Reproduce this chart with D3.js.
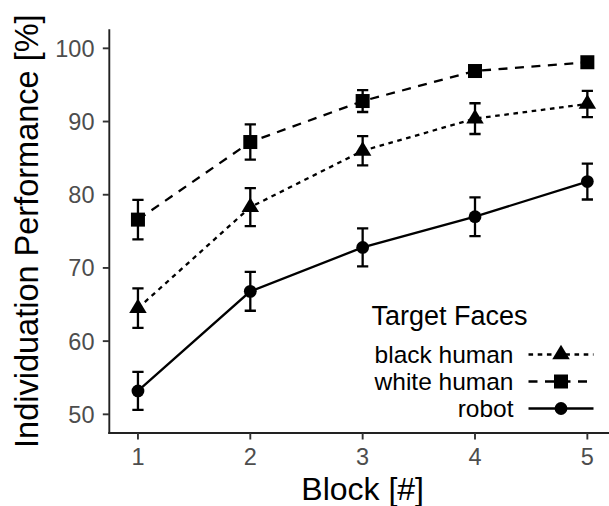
<!DOCTYPE html>
<html>
<head>
<meta charset="utf-8">
<script src="https://cdn.jsdelivr.net/npm/d3@7"></script>
<style>
  body { margin: 0; background: #fff; }
  text { font-family: "Liberation Sans", Arial, sans-serif; }
</style>
</head>
<body>
<div class="chart"></div>
<script>
// values
const blocks = [1, 2, 3, 4, 5];
const blackHuman = [64.5, 78.3, 86.0, 90.4, 92.4];
const blackHumanErr = [2.7, 2.6, 2.0, 2.1, 1.8];
const whiteHuman = [76.6, 87.2, 92.8, 96.9, 98.1];
const whiteHumanErr = [2.7, 2.4, 1.5, 0.6, 0.4];
const robot = [53.2, 66.8, 72.8, 77.0, 81.8];
const robotErr = [2.6, 2.65, 2.6, 2.65, 2.45];
const yTicks = [50, 60, 70, 80, 90, 100];
const legendLabels = ["black human", "white human", "robot"];

const width = 609, height = 506;
const svg = d3.select(".chart").append("svg").attr("width", width).attr("height", height);

// panel runs past the right edge, as in the cropped original
const x = d3.scaleLinear().domain([0.745, 5.255]).range([109.3, 616.0]);
const y = d3.scaleLinear().domain([47.45, 102.6]).range([433, 29.3]);

const series = [
  {name: "black human", vals: blackHuman, err: blackHumanErr, dash: "4.6,4.6", shape: "triangle"},
  {name: "white human", vals: whiteHuman, err: whiteHumanErr, dash: "9,7.5", shape: "square"},
  {name: "robot", vals: robot, err: robotErr, dash: null, shape: "circle"}
];

function drawShape(g, shape, cx, cy){
  if(shape === "circle"){
    g.append("circle").attr("cx", cx).attr("cy", cy).attr("r", 6.4).attr("fill", "#000");
  } else if(shape === "square"){
    g.append("rect").attr("x", cx - 7).attr("y", cy - 7).attr("width", 14).attr("height", 14).attr("fill", "#000");
  } else {
    const w = 17.5, h = 14.5;
    g.append("path")
      .attr("d", `M${cx},${cy - h*2/3}L${cx + w/2},${cy + h/3}L${cx - w/2},${cy + h/3}Z`)
      .attr("fill", "#000");
  }
}

// axes
const axisG = svg.append("g");
axisG.append("line").attr("x1", x.range()[0]).attr("x2", x.range()[0])
  .attr("y1", y.range()[1]).attr("y2", y.range()[0] + 1)
  .attr("stroke", "#222").attr("stroke-width", 1.9);
axisG.append("line").attr("x1", x.range()[0] - 1).attr("x2", width)
  .attr("y1", y.range()[0]).attr("y2", y.range()[0])
  .attr("stroke", "#222").attr("stroke-width", 1.9);

axisG.selectAll(".ytick").data(yTicks).join("line").classed("ytick", true)
  .attr("x1", x.range()[0] - 6.5).attr("x2", x.range()[0])
  .attr("y1", d => y(d)).attr("y2", d => y(d))
  .attr("stroke", "#333").attr("stroke-width", 1.9);
axisG.selectAll(".ylab").data(yTicks).join("text").classed("ylab", true)
  .attr("x", 94.5).attr("y", d => y(d)).attr("dy", "0.36em")
  .attr("text-anchor", "end").attr("fill", "#4d4d4d").style("font-size", "23.5px")
  .text(d => d);

axisG.selectAll(".xtick").data(blocks).join("line").classed("xtick", true)
  .attr("x1", d => x(d)).attr("x2", d => x(d))
  .attr("y1", y.range()[0]).attr("y2", y.range()[0] + 6.5)
  .attr("stroke", "#333").attr("stroke-width", 1.9);
axisG.selectAll(".xlab").data(blocks).join("text").classed("xlab", true)
  .attr("x", d => x(d)).attr("y", 464.5)
  .attr("text-anchor", "middle").attr("fill", "#4d4d4d").style("font-size", "23.5px")
  .text(d => d);

svg.append("text").attr("x", x(3)).attr("y", 500)
  .attr("text-anchor", "middle").attr("fill", "#000").style("font-size", "32px")
  .text("Block [#]");
svg.append("text").attr("transform", `translate(37.5,${(y.range()[0] + y.range()[1]) / 2}) rotate(-90)`)
  .attr("text-anchor", "middle").attr("fill", "#000").style("font-size", "32.5px")
  .text("Individuation Performance [%]");

// data: error bars, lines, points
const line = d3.line().x((d, i) => x(blocks[i])).y(d => y(d));
const capHalf = 0.05;
series.forEach(s => {
  const g = svg.append("g");
  g.selectAll(".eb").data(s.vals).join("path").classed("eb", true)
    .attr("d", (d, i) => {
      const b = blocks[i], lo = y(d - s.err[i]), hi = y(d + s.err[i]);
      return `M${x(b - capHalf)},${hi}H${x(b + capHalf)}M${x(b)},${hi}V${lo}M${x(b - capHalf)},${lo}H${x(b + capHalf)}`;
    })
    .attr("fill", "none").attr("stroke", "#000").attr("stroke-width", 2.3);
  g.append("path").datum(s.vals).attr("d", line)
    .attr("fill", "none").attr("stroke", "#000").attr("stroke-width", 2.3)
    .attr("stroke-dasharray", s.dash);
  s.vals.forEach((d, i) => drawShape(g, s.shape, x(blocks[i]), y(d)));
});

// legend
const legend = svg.append("g");
legend.append("text").attr("x", 371.5).attr("y", 325)
  .attr("fill", "#000").style("font-size", "27px").text("Target Faces");
const rowY = [354.5, 381.5, 408.5];
legendLabels.forEach((lab, i) => {
  const s = series.find(d => d.name === lab);
  legend.append("text").attr("x", 513.5).attr("y", rowY[i]).attr("dy", "0.36em")
    .attr("text-anchor", "end").attr("fill", "#000").style("font-size", "24.5px").text(lab);
  legend.append("line").attr("x1", 528.5).attr("x2", 593.5).attr("y1", rowY[i]).attr("y2", rowY[i])
    .attr("stroke", "#000").attr("stroke-width", 2.3).attr("stroke-dasharray", s.dash);
  drawShape(legend, s.shape, 561, rowY[i]);
});
</script>
</body>
</html>
